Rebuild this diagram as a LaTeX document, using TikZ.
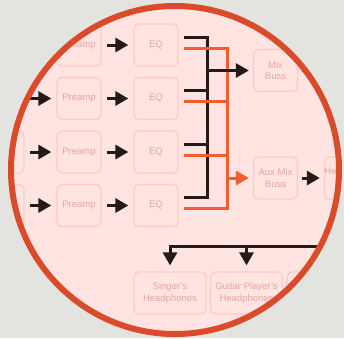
\documentclass[tikz,border=0pt]{standalone}
\usepackage{fontspec}
\setmainfont{Liberation Sans}
\usetikzlibrary{arrows.meta}
\definecolor{bgc}{HTML}{E3E3DF}
\definecolor{pinkfill}{HTML}{FFE4E1}
\definecolor{ringc}{HTML}{D94B2B}
\definecolor{boxline}{HTML}{FFCBC4}
\definecolor{boxtext}{HTML}{E5A69F}
\definecolor{ink}{HTML}{241A17}
\definecolor{orng}{HTML}{F25E2C}
\tikzset{
 box/.style={draw=boxline, line width=1.3pt, rounded corners=5pt, minimum width=44pt, minimum height=42pt, inner sep=0pt, align=center, text=boxtext, font=\fontsize{9.5}{11.5}\selectfont},
 widebox/.style={box, minimum width=72pt},
 blkarrow/.style={draw=ink, line width=3pt, -{Triangle[length=13pt,width=14pt]}},
 orgarrow/.style={draw=orng, line width=3pt, -{Triangle[length=13pt,width=14pt]}},
 blkline/.style={draw=ink, line width=3pt},
 orgline/.style={draw=orng, line width=3pt},
}
\begin{document}
\begin{tikzpicture}[x=1pt,y=-1pt]
\fill[bgc] (0,0) rectangle (344,338);
\useasboundingbox (0,0) rectangle (344,338);
\begin{scope}
\clip (175,170) circle (164pt);
\fill[pinkfill] (175,170) circle (164pt);
% left column
\node[box] (L1) at (2,45) {};
\node[box] (L2) at (2,98.5) {};
\node[box] (L3) at (2,152) {};
\node[box] (L4) at (2,205.5) {};
% preamps
\node[box] (P1) at (79,45) {Preamp};
\node[box] (P2) at (79,98.5) {Preamp};
\node[box] (P3) at (79,152) {Preamp};
\node[box] (P4) at (79,205.5) {Preamp};
% EQs
\node[box] (E1) at (156,45) {EQ};
\node[box] (E2) at (156,98.5) {EQ};
\node[box] (E3) at (156,152) {EQ};
\node[box] (E4) at (156,205.5) {EQ};
% busses
\node[box] (M) at (275.5,70.5) {Mix\\Buss};
\node[box] (A) at (275.5,178) {Aux Mix\\Buss};
\node[box] (H) at (349,178) {Headphone\\Amp};
% headphones
\node[widebox] (S) at (170,293) {Singer's\\Headphones};
\node[widebox] (G) at (246.5,293) {Guitar Player's\\Headphones};
\node[widebox] (T) at (323,293) {};
% coordinates
\coordinate (busB) at (207,0);
\coordinate (busO) at (227,0);
\coordinate (mixout) at (380,70.5);
\coordinate (hpout) at (380,246.7);
% arrows left -> preamp -> EQ
\foreach \i in {1,2,3,4}{
  \draw[blkarrow] ([xshift=5pt]L\i.east) -- ([xshift=-5pt]P\i.west);
  \draw[blkarrow] ([xshift=5pt]P\i.east) -- ([xshift=-5pt]E\i.west);
}
% black bus
\draw[blkline] ([xshift=5pt,yshift=8pt]E1.east) -- ++(24,0) |- ([xshift=5pt,yshift=8pt]E4.east);
\draw[blkline] ([xshift=5pt,yshift=8pt]E2.east) -- ++(24,0);
\draw[blkline] ([xshift=5pt,yshift=8pt]E3.east) -- ++(24,0);
% orange bus
\draw[orgline] ([xshift=5pt,yshift=-3pt]E1.east) -- ++(44,0) |- ([xshift=5pt,yshift=-3pt]E4.east);
\draw[orgline] ([xshift=5pt,yshift=-3pt]E2.east) -- ++(44,0);
\draw[orgline] ([xshift=5pt,yshift=-3pt]E3.east) -- ++(44,0);
% to busses
\draw[blkarrow] (busB |- M.west) -- ([xshift=-4pt]M.west);
\draw[orgarrow] (busO |- A.west) -- ([xshift=-4pt]A.west);
\draw[blkarrow] ([xshift=4pt]M.east) -- (mixout);
\draw[blkarrow] ([xshift=4pt]A.east) -- ([xshift=-4pt]H.west);
% headphone distribution
\draw[blkarrow] (hpout) -| ([yshift=6pt]S.north);
\draw[blkarrow] (hpout -| G.north) -- ([yshift=6pt]G.north);
\end{scope}
\draw[ringc, line width=6pt] (175,170) circle (164pt);
\end{tikzpicture}
\end{document}
